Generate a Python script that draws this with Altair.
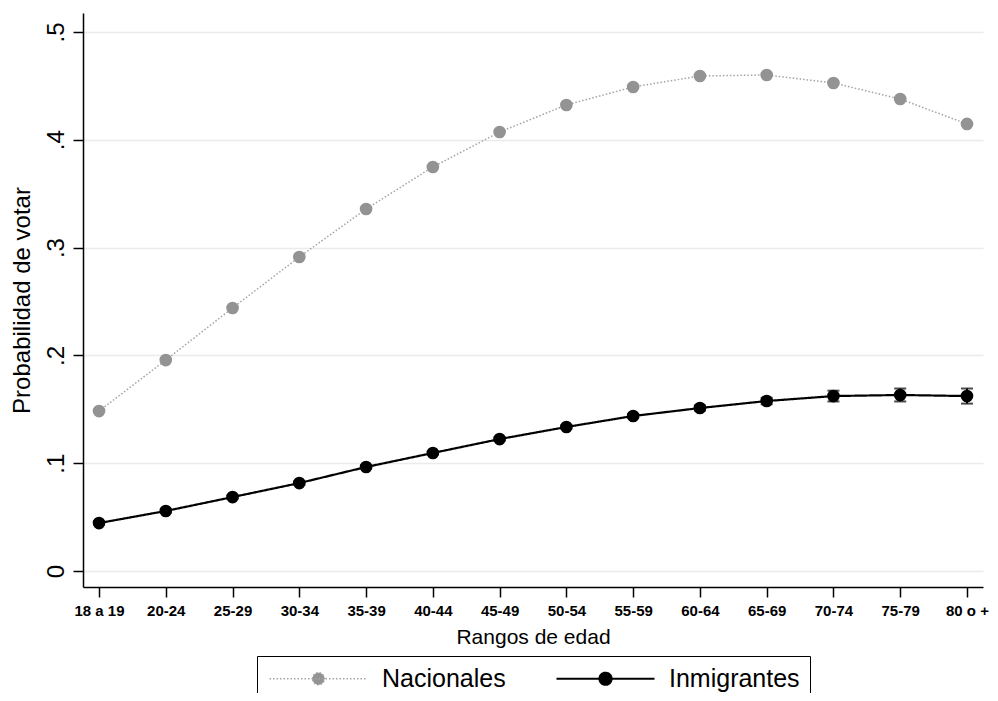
import altair as alt
import pandas as pd

edades = ["18 a 19", "20-24", "25-29", "30-34", "35-39", "40-44", "45-49",
          "50-54", "55-59", "60-64", "65-69", "70-74", "75-79", "80 o +"]
nacionales = [0.1484, 0.1957, 0.2440, 0.2913, 0.3358, 0.3748, 0.4072,
              0.4323, 0.4490, 0.4592, 0.4601, 0.4527, 0.4378, 0.4147]
inmigrantes = [0.0445, 0.0557, 0.0686, 0.0816, 0.0965, 0.1095, 0.1224,
               0.1336, 0.1438, 0.1512, 0.1577, 0.1623, 0.1633, 0.1623]
inm_ci = [0.0015, 0.0015, 0.0015, 0.0015, 0.0015, 0.0015, 0.0015,
          0.0015, 0.002, 0.0025, 0.003, 0.005, 0.006, 0.007]
series = ["Nacionales", "Inmigrantes"]
y_ticks = [0, 0.1, 0.2, 0.3, 0.4, 0.5]

rows = []
for i, e in enumerate(edades):
    rows.append({"edad": e, "serie": "Nacionales", "p": nacionales[i]})
for i, e in enumerate(edades):
    rows.append({"edad": e, "serie": "Inmigrantes", "p": inmigrantes[i]})
df = pd.DataFrame(rows)

df_ci = pd.DataFrame({
    "edad": edades,
    "lo": [v - c for v, c in zip(inmigrantes, inm_ci)],
    "hi": [v + c for v, c in zip(inmigrantes, inm_ci)],
})

FONT = "Liberation Sans"

x_enc = alt.X(
    "edad:N", sort=edades,
    scale=alt.Scale(type="point", padding=0.24),
    axis=alt.Axis(
        title="Rangos de edad", titleFont=FONT, titleFontSize=21,
        titleFontWeight="normal", titleColor="black", titlePadding=8,
        labelFont=FONT, labelFontSize=15, labelFontWeight="bold",
        labelColor="black", labelAngle=0, labelPadding=6,
        tickSize=10, tickWidth=1.5, tickColor="black",
        domainColor="black", domainWidth=1.5, grid=False,
    ),
)

y_scale = alt.Scale(domain=[-0.0148, 0.5176], nice=False, zero=False)
y_enc = alt.Y(
    "p:Q", scale=y_scale,
    axis=alt.Axis(
        values=y_ticks,
        labelExpr="datum.value == 0 ? '0' : replace(format(datum.value, '.1f'), '0.', '.')",
        labelAngle=270, labelAlign="center", labelBaseline="alphabetic",
        labelPadding=10, labelFont=FONT, labelFontSize=24, labelColor="black",
        title="Probabilidad de votar", titleFont=FONT, titleFontSize=24,
        titleFontWeight="normal", titleColor="black", titlePadding=10,
        grid=True, gridColor="#ebebeb", gridWidth=1.5,
        tickSize=10, tickWidth=1.5, tickColor="black",
        domainColor="black", domainWidth=1.5,
    ),
)

# legend key: a line 9.8 units long with a dot in its middle, drawn to the right
# of the symbol anchor (size 400 -> 10 px per unit)
sym_path = ("M-1,0L8.8,0"
            "M3.3,0A0.6,0.6,0,1,1,4.5,0A0.6,0.6,0,1,1,3.3,0Z")

leg = alt.Legend(
    orient="none", legendX=174, legendY=643, direction="horizontal",
    columns=2, title=None, strokeColor="black", padding=10,
    symbolType=sym_path, symbolSize=400, symbolStrokeWidth=2,
    symbolOpacity=1,
    labelFont=FONT, labelFontSize=25, labelColor="black",
    labelOffset=90, columnPadding=46,
)

lines = alt.Chart(df).mark_line().encode(
    x=x_enc, y=y_enc,
    stroke=alt.Stroke("serie:N", sort=series,
                      scale=alt.Scale(domain=series, range=["#a3a3a3", "black"]),
                      legend=leg),
    strokeDash=alt.StrokeDash("serie:N", sort=series,
                              scale=alt.Scale(domain=series, range=[[1.5, 2], [1, 0]]),
                              legend=leg),
    strokeWidth=alt.StrokeWidth("serie:N",
                                scale=alt.Scale(domain=series, range=[1.5, 2.2]),
                                legend=None),
)

points = alt.Chart(df).mark_circle(size=160, opacity=1).encode(
    x=x_enc, y=y_enc,
    fill=alt.Fill("serie:N", sort=series,
                  scale=alt.Scale(domain=series, range=["#939393", "black"]),
                  legend=leg),
)

err = alt.Chart(df_ci).mark_rule(color="black", strokeWidth=2).encode(
    x=alt.X("edad:N", sort=edades), y=alt.Y("lo:Q"), y2="hi:Q",
)
cap_lo = alt.Chart(df_ci).mark_tick(color="black", size=12, thickness=2).encode(
    x=alt.X("edad:N", sort=edades), y=alt.Y("lo:Q"),
)
cap_hi = alt.Chart(df_ci).mark_tick(color="black", size=12, thickness=2).encode(
    x=alt.X("edad:N", sort=edades), y=alt.Y("hi:Q"),
)

chart = alt.layer(lines, points, err, cap_lo, cap_hi).properties(
    width=900, height=574,
    autosize=alt.AutoSizeParams(type="none"),
    padding={"left": 75, "top": 5, "right": 7, "bottom": 106},
    background="white",
).configure_view(stroke=None)

chart.save("out.html", embed_options={"renderer": "svg", "actions": False})
